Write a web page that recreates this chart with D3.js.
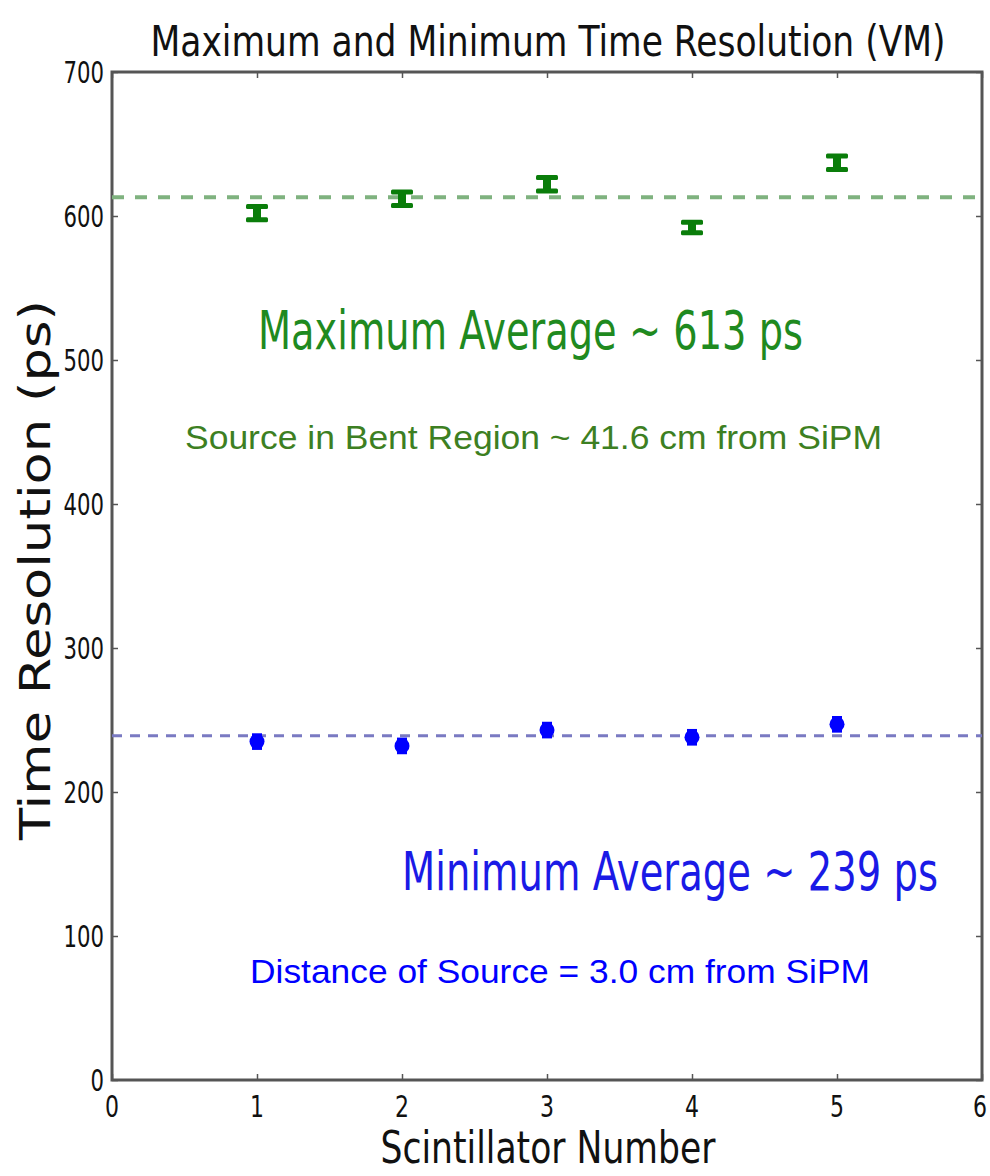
<!doctype html>
<html>
<head>
<script src="https://d3js.org/d3.v7.min.js"></script>
<style>
body { margin: 0; background: #fff; }
</style>
</head>
<body>
<script type="text/javascript">
var width = 990;
var height = 1176;

// values
var scintillators = [1, 2, 3, 4, 5];
var maxRes = [602, 612, 622, 592, 637];
var maxErr = [5, 5, 5, 4, 5];
var minRes = [235, 232, 243, 238, 247];
var minErr = [3, 3, 3, 3, 3];
var maxAvg = 613;
var minAvg = 239;
var xTicks = [0, 1, 2, 3, 4, 5, 6];
var yTicks = [0, 100, 200, 300, 400, 500, 600, 700];

var dejavu = "'DejaVu Sans', sans-serif";
var arial = "'Liberation Sans', Arial, sans-serif";

var margin = {left: 112, top: 72, right: 8, bottom: 96};

var svg = d3.select("body").append("svg")
    .attr("width", width)
    .attr("height", height)
    .style("font-family", dejavu);

var x = d3.scaleLinear().domain([0, 6]).range([margin.left, width - margin.right]);
var y = d3.scaleLinear().domain([0, 700]).range([height - margin.bottom, margin.top]);

// ticks pointing inward
var yAxisL = d3.axisLeft(y).tickValues(yTicks).tickSize(-6).tickFormat("");
var yAxisR = d3.axisRight(y).tickValues(yTicks).tickSize(-6).tickFormat("");
var xAxisB = d3.axisBottom(x).tickValues(xTicks).tickSize(-6).tickFormat("");
var xAxisT = d3.axisTop(x).tickValues(xTicks).tickSize(-6).tickFormat("");

svg.append("g").attr("transform", "translate(" + x(0) + ",0)").call(yAxisL);
svg.append("g").attr("transform", "translate(" + x(6) + ",0)").call(yAxisR);
svg.append("g").attr("transform", "translate(0," + y(0) + ")").call(xAxisB);
svg.append("g").attr("transform", "translate(0," + y(700) + ")").call(xAxisT);
svg.selectAll(".domain").remove();
svg.selectAll(".tick line").attr("stroke", "#555").attr("stroke-width", 1.5);

// frame
svg.append("rect")
    .attr("x", x(0)).attr("y", y(700))
    .attr("width", x(6) - x(0)).attr("height", y(0) - y(700))
    .attr("fill", "none").attr("stroke", "#555").attr("stroke-width", 3);

// tick labels
svg.append("g").selectAll("text")
    .data(yTicks).enter().append("text")
    .attr("x", x(0) - 8).attr("y", function (d) { return y(d) + 11; })
    .attr("text-anchor", "end")
    .attr("font-size", 30)
    .attr("textLength", function (d) { return String(d).length * 13.5; })
    .attr("lengthAdjust", "spacingAndGlyphs")
    .attr("fill", "#111")
    .text(function (d) { return d; });

svg.append("g").selectAll("text")
    .data(xTicks).enter().append("text")
    .attr("x", function (d) { return Math.min(x(d), width - 10); }).attr("y", y(0) + 37)
    .attr("text-anchor", "middle")
    .attr("font-size", 30)
    .attr("textLength", 14)
    .attr("lengthAdjust", "spacingAndGlyphs")
    .attr("fill", "#111")
    .text(function (d) { return d; });

// average lines
svg.append("line")
    .attr("x1", x(0)).attr("x2", x(6))
    .attr("y1", y(maxAvg)).attr("y2", y(maxAvg))
    .attr("stroke", "#7fb27f").attr("stroke-width", 4)
    .attr("stroke-dasharray", "12,11");

svg.append("line")
    .attr("x1", x(0)).attr("x2", x(6))
    .attr("y1", y(minAvg)).attr("y2", y(minAvg))
    .attr("stroke", "#7a7ac2").attr("stroke-width", 3)
    .attr("stroke-dasharray", "10,8");

// max points (error bars)
var maxData = scintillators.map(function (s, i) { return {s: s, v: maxRes[i], e: maxErr[i]}; });
var gMax = svg.append("g").selectAll("g").data(maxData).enter().append("g");
gMax.append("rect")
    .attr("x", function (d) { return x(d.s) - 4; })
    .attr("y", function (d) { return y(d.v + d.e); })
    .attr("width", 8)
    .attr("height", function (d) { return y(d.v - d.e) - y(d.v + d.e); })
    .attr("fill", "#0a7d0a");
gMax.append("rect")
    .attr("x", function (d) { return x(d.s) - 11; })
    .attr("y", function (d) { return y(d.v + d.e) - 2; })
    .attr("width", 22).attr("height", 5).attr("rx", 1.5)
    .attr("fill", "#0a7d0a");
gMax.append("rect")
    .attr("x", function (d) { return x(d.s) - 11; })
    .attr("y", function (d) { return y(d.v - d.e) - 3; })
    .attr("width", 22).attr("height", 5).attr("rx", 1.5)
    .attr("fill", "#0a7d0a");

// min points
var minData = scintillators.map(function (s, i) { return {s: s, v: minRes[i], e: minErr[i]}; });
var gMin = svg.append("g").selectAll("g").data(minData).enter().append("g");
gMin.append("circle")
    .attr("cx", function (d) { return x(d.s); })
    .attr("cy", function (d) { return y(d.v); })
    .attr("r", 7.5)
    .attr("fill", "#0000ff");
gMin.append("rect")
    .attr("x", function (d) { return x(d.s) - 5; })
    .attr("y", function (d) { return y(d.v + d.e) - 4; })
    .attr("width", 10).attr("height", 4)
    .attr("fill", "#0000ff");
gMin.append("rect")
    .attr("x", function (d) { return x(d.s) - 5; })
    .attr("y", function (d) { return y(d.v - d.e); })
    .attr("width", 10).attr("height", 4)
    .attr("fill", "#0000ff");

// title and axis labels
svg.append("text")
    .attr("x", 548).attr("y", 56)
    .attr("text-anchor", "middle")
    .attr("font-size", 42)
    .attr("textLength", 795).attr("lengthAdjust", "spacingAndGlyphs")
    .attr("fill", "#111")
    .text("Maximum and Minimum Time Resolution (VM)");

svg.append("text")
    .attr("x", 548).attr("y", 1163)
    .attr("text-anchor", "middle")
    .attr("font-size", 44)
    .attr("textLength", 335).attr("lengthAdjust", "spacingAndGlyphs")
    .attr("fill", "#111")
    .text("Scintillator Number");

svg.append("text")
    .attr("transform", "translate(50,570) rotate(-90)")
    .attr("text-anchor", "middle")
    .attr("font-size", 42)
    .attr("textLength", 540).attr("lengthAdjust", "spacingAndGlyphs")
    .attr("fill", "#111")
    .text("Time Resolution (ps)");

// annotations
svg.append("text")
    .attr("x", 258).attr("y", 349)
    .attr("font-size", 54)
    .attr("textLength", 545).attr("lengthAdjust", "spacingAndGlyphs")
    .attr("fill", "#1f8a1f")
    .text("Maximum Average ~ 613 ps");

svg.append("text")
    .attr("x", 185).attr("y", 449)
    .attr("font-size", 33)
    .style("font-family", arial)
    .attr("textLength", 697).attr("lengthAdjust", "spacingAndGlyphs")
    .attr("fill", "#3d7f22")
    .text("Source in Bent Region ~ 41.6 cm from SiPM");

svg.append("text")
    .attr("x", 402).attr("y", 890)
    .attr("font-size", 54)
    .attr("textLength", 536).attr("lengthAdjust", "spacingAndGlyphs")
    .attr("fill", "#1a1ae6")
    .text("Minimum Average ~ 239 ps");

svg.append("text")
    .attr("x", 250).attr("y", 983)
    .attr("font-size", 33)
    .style("font-family", arial)
    .attr("textLength", 620).attr("lengthAdjust", "spacingAndGlyphs")
    .attr("fill", "#0000ff")
    .text("Distance of Source = 3.0 cm from SiPM");
</script>
</body>
</html>
